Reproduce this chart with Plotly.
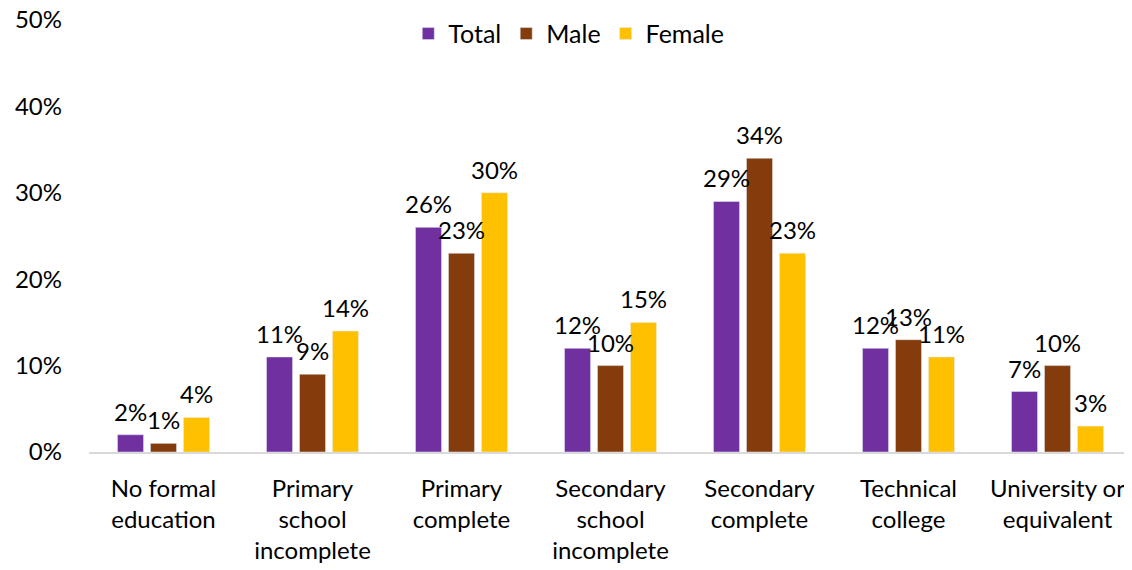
import plotly.graph_objects as go

categories = ["No formal<br>education", "Primary<br>school<br>incomplete", "Primary<br>complete",
              "Secondary<br>school<br>incomplete", "Secondary<br>complete", "Technical<br>college",
              "University or<br>equivalent"]
total = [2, 11, 26, 12, 29, 12, 7]
male = [1, 9, 23, 10, 34, 13, 10]
female = [4, 14, 30, 15, 23, 11, 3]
y_ticks = [0, 10, 20, 30, 40, 50]

FONT = "Lato"
FS = 24
series = [("Total", total, "#7030A0"), ("Male", male, "#843C0C"), ("Female", female, "#FFC000")]
offsets = [-33, 0, 33]

fig = go.Figure()
annotations = []
for (name, vals, color), dx in zip(series, offsets):
    fig.add_trace(go.Bar(name=name, x=categories, y=vals, marker_color=color))
    for c, v in zip(categories, vals):
        annotations.append(dict(x=c, y=v, xref="x", yref="y", text=f"{v}%", showarrow=False,
                                xshift=dx, yshift=7, yanchor="bottom", xanchor="center",
                                font=dict(size=FS, color="#000000", family=FONT)))

fig.update_layout(
    width=1124, height=562,
    margin=dict(l=81, r=0, t=12, b=118),
    barmode="group", bargap=0.336, bargroupgap=0.21,
    plot_bgcolor="white", paper_bgcolor="white",
    font=dict(family=FONT, size=FS, color="#000000"),
    annotations=annotations,
    legend=dict(orientation="h", x=0.46, xanchor="center", y=0.968, yanchor="middle",
                font=dict(size=25), itemwidth=30, traceorder="normal", bgcolor="rgba(0,0,0,0)"),
    xaxis=dict(showgrid=False, showline=True, linecolor="#D9D9D9", linewidth=1.5,
               ticks="", tickfont=dict(size=24), automargin=False, ticklabelstandoff=14,
               ticklabeloverflow="allow"),
    yaxis=dict(range=[0, 50], tickvals=y_ticks, ticktext=[f"{v}%" for v in y_ticks],
               showgrid=False, zeroline=False, showline=False, ticks="", automargin=False,
               ticklabelstandoff=26, tickfont=dict(size=FS), ticklabeloverflow="allow"),
)

fig.write_html("out.html")
